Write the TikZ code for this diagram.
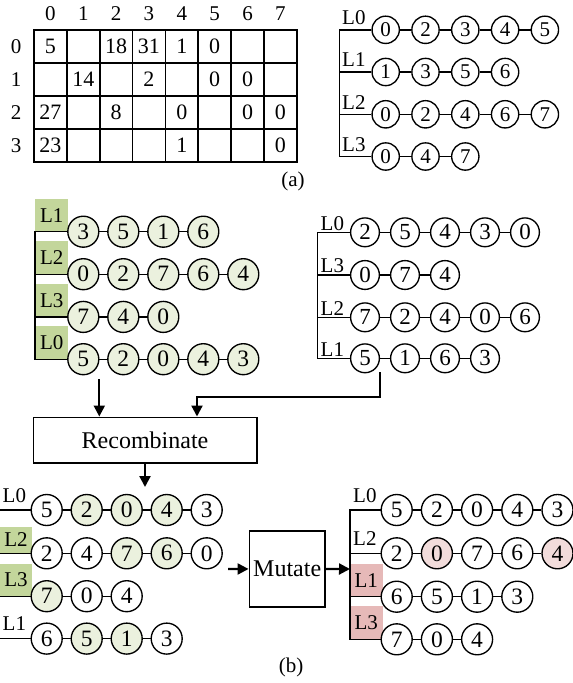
\documentclass[tikz,border=0pt]{standalone}
\usepackage{fontspec}
\setmainfont{Liberation Serif}
\usetikzlibrary{arrows.meta,calc}
\definecolor{ng}{HTML}{EBF1DE}
\definecolor{np}{HTML}{F2DCDB}
\definecolor{nw}{HTML}{FFFFFF}
\definecolor{labg}{HTML}{C3D69B}
\definecolor{labp}{HTML}{E6B9B8}
\newcommand{\chainrow}[6]{%
  \foreach \v/\c [count=\i, remember=\i as \j (initially 0)] in {#6} {
    \node[cir, #5, fill=\c] (#1-\i) at ({#2+(\i-1)*#4}, #3) {\v};
    \ifnum\j>0 \draw[ln] (#1-\j) -- (#1-\i); \fi
  }
}
\tikzset{
  ln/.style={line width=1.4pt},
  cir/.style={circle, draw, line width=1.35pt, inner sep=0pt},
  small/.style={minimum size=27.3pt, font=\fontsize{21}{21}\selectfont},
  big/.style={minimum size=31pt, font=\fontsize{23.5}{23.5}\selectfont},
  mid/.style={minimum size=28.8pt, font=\fontsize{23}{23}\selectfont},
  lbl/.style={anchor=base west, inner sep=0pt, font=\fontsize{21}{21}\selectfont},
  gbox/.style={fill=labg, inner sep=0pt, minimum width=32.5pt, minimum height=33pt, font=\fontsize{21}{21}\selectfont},
  pbox/.style={fill=labp, inner sep=0pt, minimum width=32.5pt, minimum height=33pt, font=\fontsize{21}{21}\selectfont},
  tt/.style={inner sep=0pt, font=\fontsize{22}{22}\selectfont},
  hd/.style={inner sep=0pt, font=\fontsize{21}{21}\selectfont},
  box/.style={draw, line width=1.6pt, inner sep=0pt, font=\fontsize{24}{24}\selectfont},
  arr/.style={line width=2.2pt, -{Triangle[length=11pt,width=11pt]}},
}
\begin{document}
\begin{tikzpicture}[x=1pt,y=-1pt]
\useasboundingbox (0,0) rectangle (573,683);
% ---------- table (a) ----------
\draw[line width=1.6pt] (34,30) rectangle (296.8,162);
\foreach \k in {1,...,7} \draw[line width=1.6pt] ({34+\k*32.85},30) -- ({34+\k*32.85},162);
\foreach \k in {1,2,3} \draw[line width=1.6pt] (34,{30+\k*33}) -- (296.8,{30+\k*33});
\foreach \c in {0,...,7} \node[hd] (h\c) at ({34+(\c+0.5)*32.85},14) {\c};
\foreach \r in {0,...,3} \node[hd] (r\r) at (16,{30+(\r+0.5)*33}) {\r};
\foreach \c/\v in {0/5,2/18,3/31,4/1,5/0} \node[tt] (t0\c) at ({34+(\c+0.5)*32.85},46.5) {\v};
\foreach \c/\v in {1/14,3/2,5/0,6/0} \node[tt] (t1\c) at ({34+(\c+0.5)*32.85},79.5) {\v};
\foreach \c/\v in {0/27,2/8,4/0,6/0,7/0} \node[tt] (t2\c) at ({34+(\c+0.5)*32.85},112.5) {\v};
\foreach \c/\v in {0/23,4/1,7/0} \node[tt] (t3\c) at ({34+(\c+0.5)*32.85},145.5) {\v};
\node[hd] (capa) at (293,181) {(a)};
% ---------- chain A (top right) ----------
\chainrow{A0}{385.7}{29.8}{39.8}{small}{0/nw,2/nw,3/nw,4/nw,5/nw}
\chainrow{A1}{385.7}{72}{39.8}{small}{1/nw,3/nw,5/nw,6/nw}
\chainrow{A2}{385.7}{114.3}{39.8}{small}{0/nw,2/nw,4/nw,6/nw,7/nw}
\chainrow{A3}{385.7}{156.5}{39.8}{small}{0/nw,4/nw,7/nw}
\coordinate (Ab0) at (339.3,29.8);
\coordinate (Ab1) at (339.3,72);
\coordinate (Ab2) at (339.3,114.3);
\coordinate (Ab3) at (339.3,156.5);
\draw[ln] (A0-1) -- (Ab0) -- (Ab3) -- (A3-1);
\draw[ln] (Ab1) -- (A1-1);
\draw[ln] (Ab2) -- (A2-1);
\node[lbl] (Al0) at (342,24.5) {L0};
\node[lbl] (Al1) at (342,66.5) {L1};
\node[lbl] (Al2) at (342,109) {L2};
\node[lbl] (Al3) at (342,151) {L3};
% ---------- chain B (middle left, green) ----------
\node[gbox] (Bl0) at (51.7,215.2) {L1};
\node[gbox] (Bl1) at (51.7,257.7) {L2};
\node[gbox] (Bl2) at (51.7,300.4) {L3};
\node[gbox] (Bl3) at (51.7,342.7) {L0};
\chainrow{B0}{83.3}{231.7}{40}{big}{3/ng,5/ng,1/ng,6/ng}
\chainrow{B1}{83.3}{274.2}{40}{big}{0/ng,2/ng,7/ng,6/ng,4/ng}
\chainrow{B2}{83.3}{316.9}{40}{big}{7/ng,4/ng,0/ng}
\chainrow{B3}{83.3}{359.2}{40}{big}{5/ng,2/ng,0/ng,4/ng,3/ng}
\coordinate (Bb0) at (35,231.7);
\coordinate (Bb1) at (35,274.2);
\coordinate (Bb2) at (35,316.9);
\coordinate (Bb3) at (35,359.2);
\draw[ln] (B0-1) -- (Bb0) -- (Bb3) -- (B3-1);
\draw[ln] (Bb1) -- (B1-1);
\draw[ln] (Bb2) -- (B2-1);
% ---------- chain C (middle right) ----------
\chainrow{C0}{365}{232.3}{40}{mid}{2/nw,5/nw,4/nw,3/nw,0/nw}
\chainrow{C1}{365}{275}{40}{mid}{0/nw,7/nw,4/nw}
\chainrow{C2}{365}{317.3}{40}{mid}{7/nw,2/nw,4/nw,0/nw,6/nw}
\chainrow{C3}{365}{358.3}{40}{mid}{5/nw,1/nw,6/nw,3/nw}
\coordinate (Cb0) at (317.3,232.3);
\coordinate (Cb1) at (317.3,275);
\coordinate (Cb2) at (317.3,317.3);
\coordinate (Cb3) at (317.3,358.3);
\draw[ln] (C0-1) -- (Cb0) -- (Cb3) -- (C3-1);
\draw[ln] (Cb1) -- (C1-1);
\draw[ln] (Cb2) -- (C2-1);
\node[lbl] (Cl0) at (320.5,230) {L0};
\node[lbl] (Cl1) at (320.5,272.7) {L3};
\node[lbl] (Cl2) at (320.5,315) {L2};
\node[lbl] (Cl3) at (320.5,356) {L1};
% ---------- recombination ----------
\node[box, minimum width=223.4pt, minimum height=45.4pt] (rec) at (145,440) {Recombinate};
\coordinate (la0) at (99.3,379);
\draw[arr] (la0) -- (la0 |- rec.north);
\coordinate (ra0) at (380,372);
\coordinate (ra1) at (197,396.7);
\draw[arr, line join=miter] (ra0) |- (ra1) -- (ra1 |- rec.north);
\coordinate (rd) at (145,487);
\draw[arr] (rec) -- (rd);
% ---------- chain D (bottom left) ----------
\node[gbox, minimum height=27pt] (Dl1) at (16,540) {L2};
\node[gbox, minimum height=32.5pt] (Dl2) at (16,580) {L3};
\chainrow{D0}{46.7}{510}{40}{big}{5/nw,2/ng,0/ng,4/ng,3/nw}
\chainrow{D1}{46.7}{553.3}{40}{big}{2/nw,4/nw,7/ng,6/ng,0/nw}
\chainrow{D2}{46.7}{596.2}{40}{big}{7/ng,0/nw,4/nw}
\chainrow{D3}{46.7}{638.6}{40}{big}{6/nw,5/ng,1/ng,3/nw}
\coordinate (Db0) at (0,510);
\coordinate (Db1) at (0,553.3);
\coordinate (Db2) at (0,596.2);
\coordinate (Db3) at (0,638.6);
\draw[ln] (Db0) -- (D0-1);
\draw[ln] (Db1) -- (D1-1);
\draw[ln] (Db2) -- (D2-1);
\draw[ln] (Db3) -- (D3-1);
\node[lbl] (Dl0) at (2.5,502.5) {L0};
\node[lbl] (Dl3) at (2.5,630.5) {L1};
% ---------- mutation ----------
\node[box, minimum size=75.7pt] (mut) at (287.2,568.9) {Mutate};
\coordinate (mi) at (228,569);
\coordinate (mo) at (350,569);
\draw[arr] (mi) -- (mut);
\draw[arr] (mut) -- (mo);
% ---------- chain E (bottom right) ----------
\node[pbox] (El2) at (366.3,580.2) {L1};
\node[pbox] (El3) at (366.3,622.8) {L3};
\chainrow{E0}{396.7}{510}{40.2}{big}{5/nw,2/nw,0/nw,4/nw,3/nw}
\chainrow{E1}{396.7}{553.3}{40.2}{big}{2/nw,0/np,7/nw,6/nw,4/np}
\chainrow{E2}{396.7}{596.7}{40.2}{big}{6/nw,5/nw,1/nw,3/nw}
\chainrow{E3}{396.7}{639.3}{40.2}{big}{7/nw,0/nw,4/nw}
\coordinate (Eb0) at (350,510);
\coordinate (Eb1) at (350,553.3);
\coordinate (Eb2) at (350,596.7);
\coordinate (Eb3) at (350,639.3);
\draw[ln] (E0-1) -- (Eb0) -- (Eb3) -- (E3-1);
\draw[ln] (Eb1) -- (E1-1);
\draw[ln] (Eb2) -- (E2-1);
\node[lbl] (El0) at (353,502.5) {L0};
\node[lbl] (El1) at (353,545.5) {L2};
\node[hd] (capb) at (291,667) {(b)};
\end{tikzpicture}
\end{document}
